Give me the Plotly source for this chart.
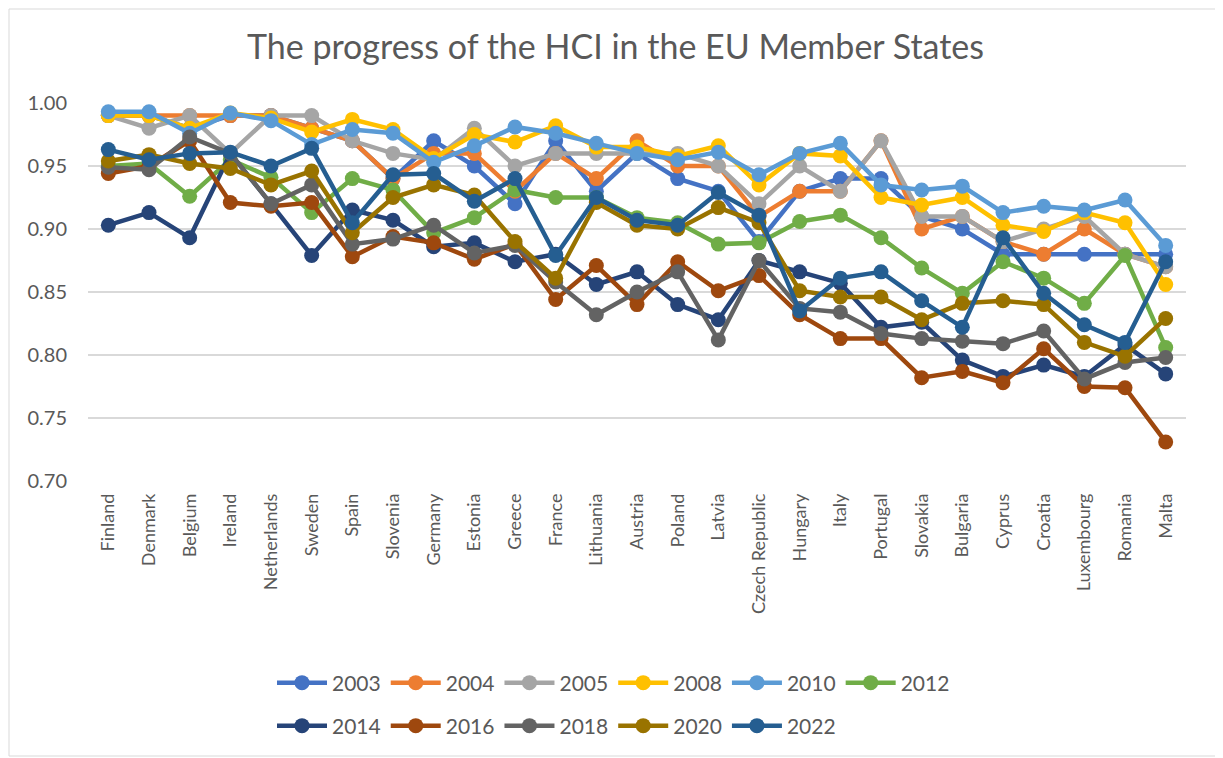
import plotly.graph_objects as go

countries = ["Finland", "Denmark", "Belgium", "Ireland", "Netherlands", "Sweden", "Spain",
             "Slovenia", "Germany", "Estonia", "Greece", "France", "Lithuania", "Austria",
             "Poland", "Latvia", "Czech Republic", "Hungary", "Italy", "Portugal", "Slovakia",
             "Bulgaria", "Cyprus", "Croatia", "Luxembourg", "Romania", "Malta"]

y2003 = [0.99, 0.99, 0.98, 0.99, 0.99, 0.98, 0.97, 0.94, 0.97, 0.95, 0.92, 0.97, 0.93, 0.96,
         0.94, 0.93, 0.89, 0.93, 0.94, 0.94, 0.91, 0.90, 0.88, 0.88, 0.88, 0.88, 0.88]
y2004 = [0.99, 0.99, 0.99, 0.99, 0.99, 0.98, 0.97, 0.94, 0.96, 0.96, 0.93, 0.96, 0.94, 0.97,
         0.95, 0.95, 0.91, 0.93, 0.93, 0.97, 0.90, 0.91, 0.89, 0.88, 0.90, 0.88, 0.87]
y2005 = [0.99, 0.98, 0.99, 0.96, 0.99, 0.99, 0.97, 0.96, 0.955, 0.98, 0.95, 0.96, 0.96, 0.96,
         0.96, 0.95, 0.92, 0.95, 0.93, 0.97, 0.91, 0.91, 0.89, 0.90, 0.91, 0.88, 0.87]
y2008 = [0.99, 0.99, 0.98, 0.992, 0.988, 0.977, 0.987, 0.979, 0.956, 0.975, 0.969, 0.982, 0.965,
         0.965, 0.958, 0.966, 0.935, 0.96, 0.958, 0.925, 0.919, 0.925, 0.903, 0.898, 0.913,
         0.905, 0.856]
y2010 = [0.993, 0.993, 0.976, 0.992, 0.986, 0.967, 0.979, 0.976, 0.953, 0.966, 0.981, 0.976,
         0.968, 0.96, 0.955, 0.961, 0.943, 0.96, 0.968, 0.935, 0.931, 0.934, 0.913, 0.918,
         0.915, 0.923, 0.887]
y2012 = [0.95, 0.952, 0.926, 0.955, 0.941, 0.913, 0.94, 0.931, 0.897, 0.909, 0.931, 0.925,
         0.925, 0.909, 0.905, 0.888, 0.889, 0.906, 0.911, 0.893, 0.869, 0.849, 0.874, 0.861,
         0.841, 0.879, 0.806]
y2014 = [0.903, 0.913, 0.893, 0.96, 0.92, 0.879, 0.915, 0.907, 0.886, 0.889, 0.874, 0.88,
         0.856, 0.866, 0.84, 0.828, 0.875, 0.866, 0.857, 0.822, 0.826, 0.796, 0.783, 0.792,
         0.783, 0.808, 0.785]
y2016 = [0.944, 0.95, 0.97, 0.921, 0.918, 0.921, 0.878, 0.894, 0.889, 0.876, 0.888, 0.844,
         0.871, 0.84, 0.874, 0.851, 0.863, 0.832, 0.813, 0.813, 0.782, 0.787, 0.778, 0.805,
         0.775, 0.774, 0.731]
y2018 = [0.949, 0.947, 0.973, 0.96, 0.92, 0.935, 0.888, 0.892, 0.903, 0.881, 0.887, 0.858,
         0.832, 0.85, 0.866, 0.812, 0.875, 0.837, 0.834, 0.817, 0.813, 0.811, 0.809, 0.819,
         0.781, 0.794, 0.798]
y2020 = [0.954, 0.959, 0.952, 0.948, 0.935, 0.946, 0.897, 0.925, 0.935, 0.927, 0.89, 0.861,
         0.921, 0.903, 0.9, 0.917, 0.905, 0.851, 0.846, 0.846, 0.828, 0.841, 0.843, 0.84,
         0.81, 0.799, 0.829]
y2022 = [0.963, 0.955, 0.96, 0.961, 0.95, 0.964, 0.905, 0.943, 0.944, 0.922, 0.94, 0.879,
         0.925, 0.907, 0.903, 0.929, 0.911, 0.835, 0.861, 0.866, 0.843, 0.822, 0.893, 0.849,
         0.824, 0.81, 0.874]

series_names = ["2003", "2004", "2005", "2008", "2010", "2012",
                "2014", "2016", "2018", "2020", "2022"]
series_values = [y2003, y2004, y2005, y2008, y2010, y2012,
                 y2014, y2016, y2018, y2020, y2022]
colors = ["#4472C4", "#ED7D31", "#A5A5A5", "#FFC000", "#5B9BD5", "#70AD47",
          "#264478", "#9E480E", "#636363", "#997300", "#255E91"]

FONT = "Lato, Open Sans, sans-serif"
TXT = "#595959"

fig = go.Figure()
for i, (name, vals, col) in enumerate(zip(series_names, series_values, colors)):
    fig.add_trace(go.Scatter(
        x=countries, y=vals, name=name, mode="lines+markers",
        line=dict(color=col, width=4.5),
        marker=dict(color=col, size=15),
        legend="legend" if i < 6 else "legend2",
    ))

# page body has an 8px margin: compensate so plot area lands at screen 88..1186 x 103..481
OFF = 8
W, H = 1223 - OFF, 758 - OFF
L, T, R = 88 - OFF, 103 - OFF, 37
B = H - T - 378
pw, ph = W - L - R, H - T - B

leg_x = (272 - 88) / pw

fig.update_layout(
    width=W, height=H,
    margin=dict(l=L, r=R, t=T, b=B, autoexpand=False),
    paper_bgcolor="white", plot_bgcolor="white",
    title=dict(text="The progress of the HCI in the EU Member States",
               x=0.5, xanchor="center", y=1 - (47 - OFF) / H, yanchor="middle",
               font=dict(family=FONT, size=34, color=TXT)),
    font=dict(family=FONT, color=TXT, size=20),
    xaxis=dict(type="category", tickangle=-90, showgrid=False, showline=False,
               automargin=False, range=[-0.5, len(countries) - 0.5],
               ticks="", ticklabelstandoff=8, tickfont=dict(size=18, color=TXT)),
    yaxis=dict(range=[0.70, 1.00], dtick=0.05, tickformat=".2f",
               automargin=False,
               showgrid=True, gridcolor="#D9D9D9", gridwidth=1.5,
               zeroline=False, showline=False, ticks="", ticklabelstandoff=20,
               tickfont=dict(size=20, color=TXT)),
    legend=dict(orientation="h", x=leg_x, xanchor="left",
                y=-(683 - 481) / ph, yanchor="middle",
                font=dict(size=21, color=TXT), itemwidth=50,
                bgcolor="rgba(0,0,0,0)"),
    legend2=dict(orientation="h", x=leg_x, xanchor="left",
                 y=-(726 - 481) / ph, yanchor="middle",
                 font=dict(size=21, color=TXT), itemwidth=50,
                 bgcolor="rgba(0,0,0,0)"),
    showlegend=True,
)

fig.add_shape(type="rect", xref="paper", yref="paper",
              x0=-(L - 1) / pw, x1=1 + (R - 2) / pw,
              y0=-(B - 2) / ph, y1=1 + (T - 1) / ph,
              line=dict(color="#D9D9D9", width=1), layer="below")

fig.write_html("out.html")
